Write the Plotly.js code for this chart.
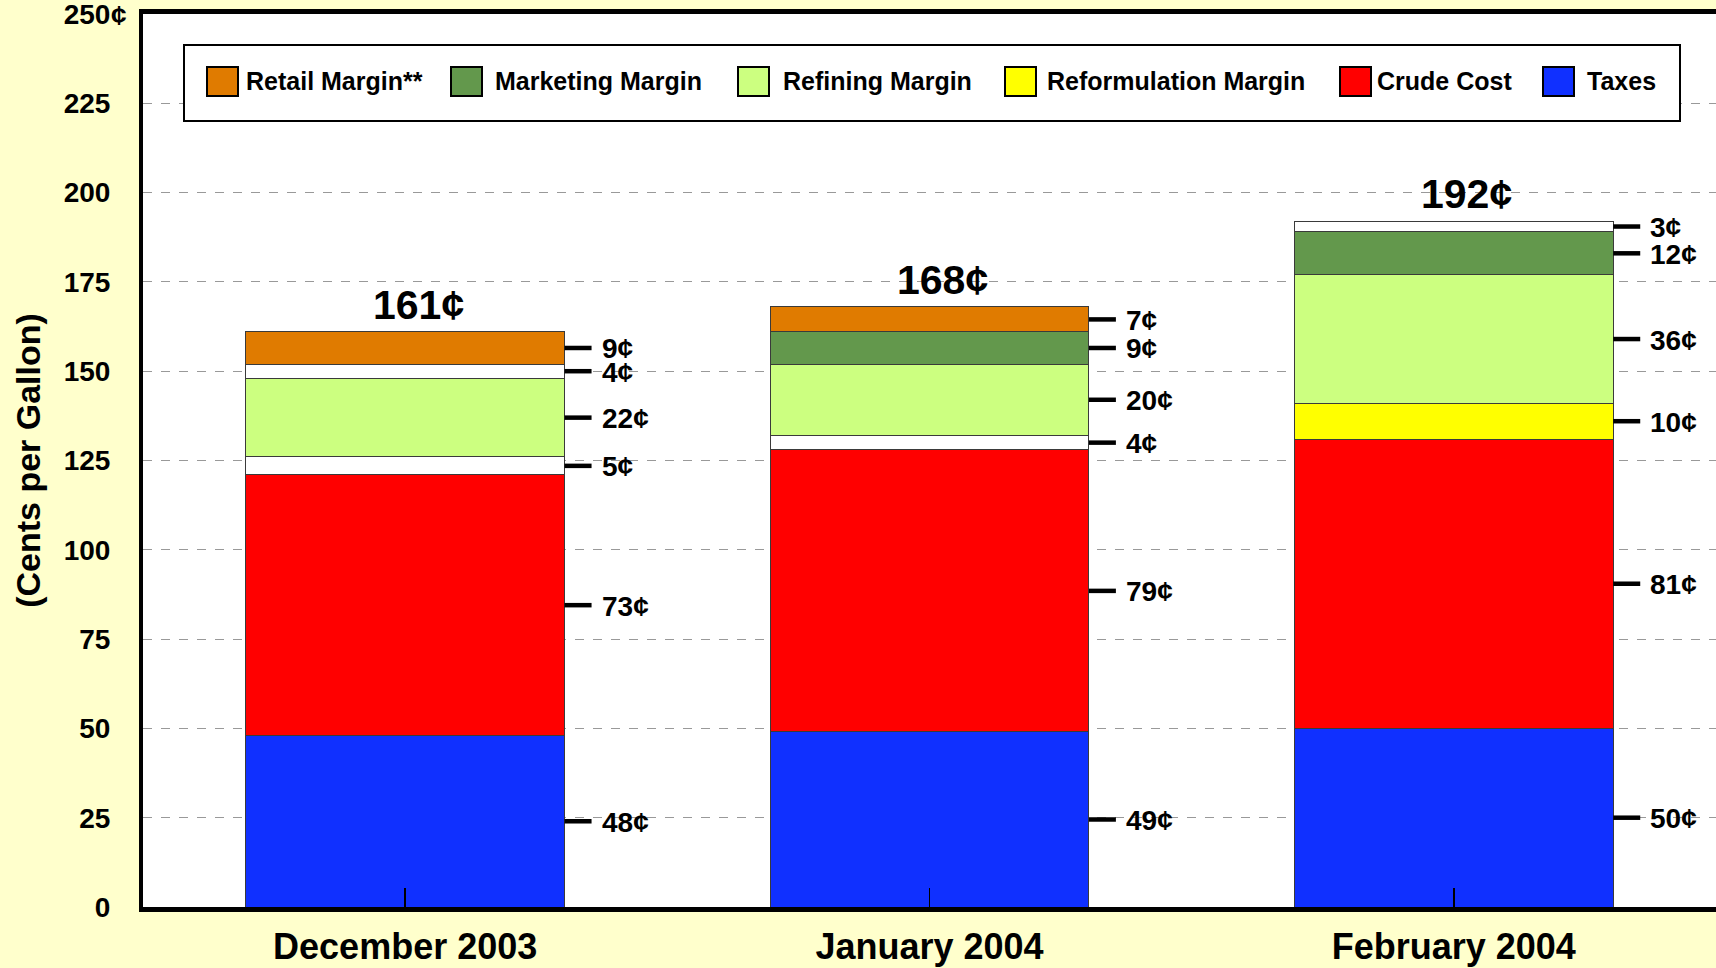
<!DOCTYPE html>
<html>
<head>
<meta charset="utf-8">
<script src="https://cdn.plot.ly/plotly-3.0.1.min.js"></script>
<style>
  html, body { margin: 0; padding: 0; background: #ffffcc; }
  #chart { width: 1716px; height: 968px; }
</style>
</head>
<body>
<div id="chart"></div>
<script>
const MONTHS = ['December 2003', 'January 2004', 'February 2004'];
const TAXES = [48, 49, 50];
const CRUDE = [73, 79, 81];
const REFORMULATION = [5, 4, 10];
const REFINING = [22, 20, 36];
const MARKETING = [4, 9, 12];
const RETAIL = [9, 7, 3];
const TOTALS = [161, 168, 192];
const Y_TICKS = [0, 25, 50, 75, 100, 125, 150, 175, 200, 225, 250];

// month indexes where the source leaves a segment unshaded (white)
const UNSHADED = {
  reformulation: [0, 1],
  marketing: [0],
  retail: [2],
};

// bottom to top
const SERIES = [
  { key: 'taxes', name: 'Taxes', values: TAXES, color: '#1030ff' },
  { key: 'crude', name: 'Crude Cost', values: CRUDE, color: '#ff0000' },
  { key: 'reformulation', name: 'Reformulation Margin', values: REFORMULATION, color: '#ffff00' },
  { key: 'refining', name: 'Refining Margin', values: REFINING, color: '#ccff80' },
  { key: 'marketing', name: 'Marketing Margin', values: MARKETING, color: '#63984c' },
  { key: 'retail', name: 'Retail Margin**', values: RETAIL, color: '#e07b00' },
];

const W = 1716;
const H = 968;
const MARGIN = { l: 143, r: 0, t: 14, b: 61 };
const BAR_WIDTH = 0.608;
const FONT = 'Liberation Sans, Arial, Helvetica, sans-serif';

// pixel -> paper helpers for the hand-built legend
function px(x) { return (x - MARGIN.l) / (W - MARGIN.l - MARGIN.r); }
function py(y) { return (H - MARGIN.b - y) / (H - MARGIN.t - MARGIN.b); }

const traces = SERIES.map(s => ({
  type: 'bar',
  name: s.name,
  x: MONTHS,
  y: s.values,
  width: BAR_WIDTH,
  showlegend: false,
  hoverinfo: 'skip',
  marker: {
    color: s.values.map((v, i) => (UNSHADED[s.key] || []).includes(i) ? '#ffffff' : s.color),
    line: { color: '#3a3a3a', width: 1 },
  },
}));

const shapes = [];
const annotations = [];

// segment value labels with leader lines
MONTHS.forEach((m, i) => {
  let base = 0;
  SERIES.forEach(s => {
    const v = s.values[i];
    const mid = base + v / 2;
    base += v;
    shapes.push({
      type: 'line', xref: 'x', yref: 'y',
      xsizemode: 'pixel', xanchor: i + BAR_WIDTH / 2,
      x0: 0, x1: 27, y0: mid, y1: mid,
      line: { color: 'black', width: 4.5 },
    });
    annotations.push({
      x: i + BAR_WIDTH / 2, y: mid, xref: 'x', yref: 'y',
      xanchor: 'left', yanchor: 'middle', xshift: 35, yshift: -1,
      text: v + '¢', showarrow: false,
      font: { family: FONT, size: 28, weight: 'bold', color: 'black' },
    });
  });
  annotations.push({
    x: i, y: TOTALS[i], xref: 'x', yref: 'y',
    xanchor: 'center', yanchor: 'bottom', xshift: 13, yshift: 2,
    text: TOTALS[i] + '¢', showarrow: false,
    font: { family: FONT, size: 41, weight: 'bold', color: 'black' },
  });
});

// cent sign hanging off the top tick label
annotations.push({
  x: px(109), y: 250, xref: 'paper', yref: 'y',
  xanchor: 'left', yanchor: 'middle', yshift: -1,
  text: '¢', showarrow: false,
  font: { family: FONT, size: 28, weight: 'bold', color: 'black' },
});

// legend box, drawn by hand to get the big swatches
const LEGEND_ORDER = [...SERIES].reverse();
const SWATCH_X = [207, 451, 738, 1005, 1340, 1543];
const TEXT_X = [244, 493, 781, 1045, 1375, 1585];
shapes.push({
  type: 'rect', xref: 'paper', yref: 'paper',
  x0: px(184), x1: px(1680), y0: py(121), y1: py(45),
  fillcolor: 'white', line: { color: 'black', width: 2 }, layer: 'above',
});
LEGEND_ORDER.forEach((s, k) => {
  shapes.push({
    type: 'rect', xref: 'paper', yref: 'paper',
    x0: px(SWATCH_X[k]), x1: px(SWATCH_X[k] + 31), y0: py(96), y1: py(67),
    fillcolor: s.color, line: { color: 'black', width: 2 }, layer: 'above',
  });
  annotations.push({
    x: px(TEXT_X[k]), y: py(81), xref: 'paper', yref: 'paper',
    xanchor: 'left', yanchor: 'middle',
    text: s.name, showarrow: false,
    font: { family: FONT, size: 25, weight: 'bold', color: 'black' },
  });
});

const layout = {
  width: W,
  height: H,
  margin: MARGIN,
  paper_bgcolor: '#ffffcc',
  plot_bgcolor: '#ffffff',
  font: { family: FONT, weight: 'bold', color: 'black' },
  barmode: 'stack',
  showlegend: false,
  xaxis: {
    type: 'category',
    range: [-0.5, 2.5],
    showline: true,
    linecolor: 'black',
    linewidth: 5,
    mirror: true,
    ticks: 'inside',
    ticklen: 19,
    tickwidth: 1.5,
    tickcolor: 'black',
    ticklabelstandoff: 4,
    tickfont: { family: FONT, size: 36, weight: 'bold', color: 'black' },
    showgrid: false,
    fixedrange: true,
  },
  yaxis: {
    range: [0, 250],
    tickvals: Y_TICKS,
    ticktext: Y_TICKS.map(String),
    ticklabeloverflow: 'allow',
    showline: true,
    linecolor: 'black',
    linewidth: 4,
    ticks: '',
    ticklabelstandoff: 23,
    tickfont: { family: FONT, size: 28, weight: 'bold', color: 'black' },
    showgrid: true,
    gridcolor: '#999999',
    griddash: 'dash',
    gridwidth: 1,
    zeroline: false,
    fixedrange: true,
    title: {
      text: '(Cents per Gallon)',
      standoff: 14,
      font: { family: FONT, size: 34, weight: 'bold', color: 'black' },
    },
  },
  shapes: shapes,
  annotations: annotations,
};

Plotly.newPlot('chart', traces, layout, { displayModeBar: false, staticPlot: true });
</script>
</body>
</html>
